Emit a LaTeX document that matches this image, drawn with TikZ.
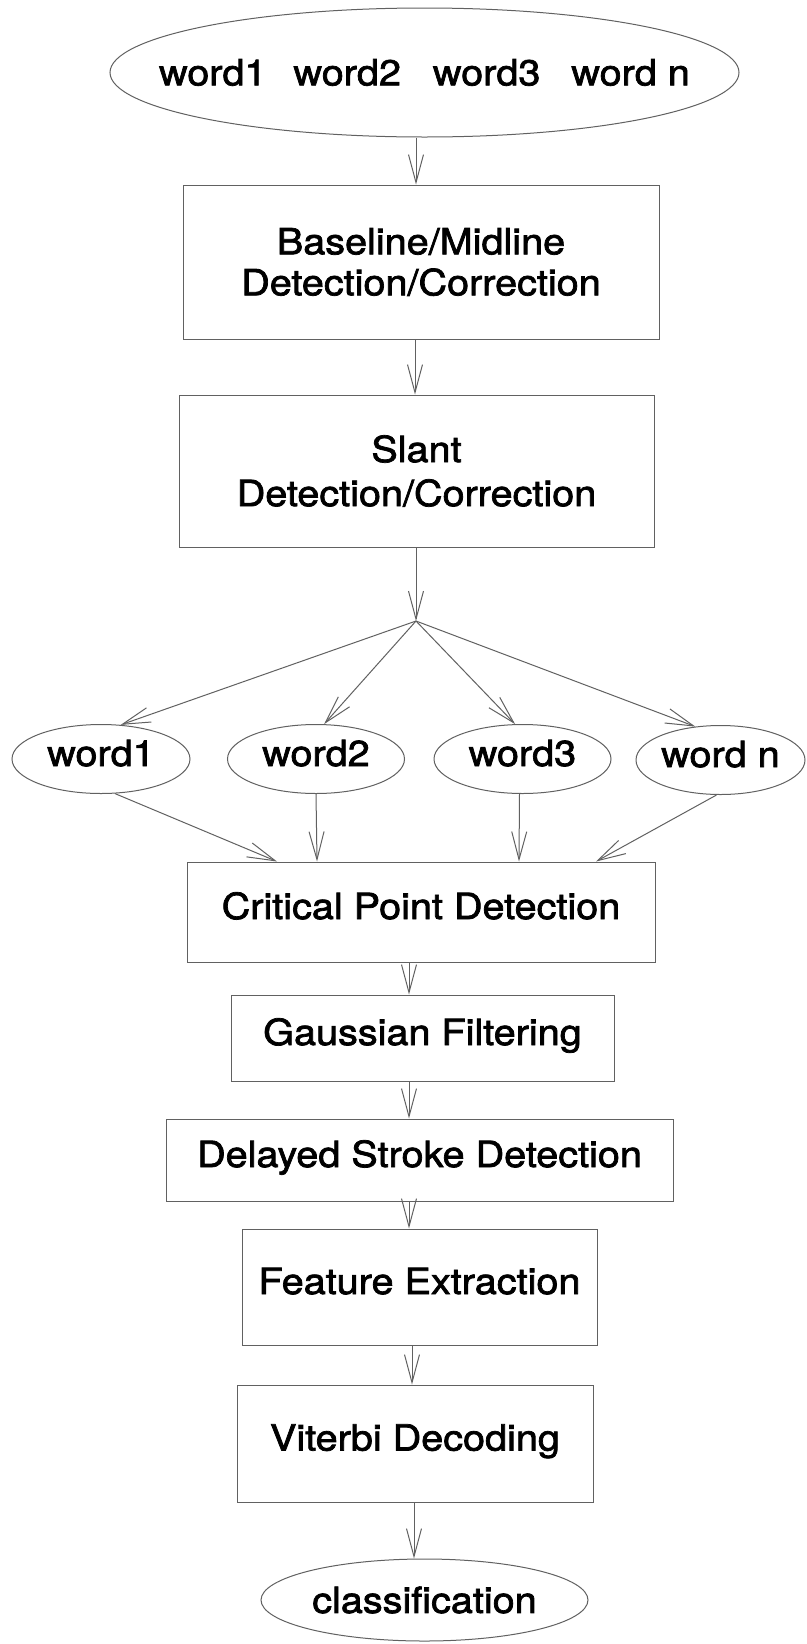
\documentclass[tikz,border=0pt]{standalone}
\usepackage{fontspec}
\newfontfamily\hv{TeX Gyre Heros}[FakeStretch=1.1,FakeBold=2]
\usetikzlibrary{shapes.geometric,arrows.meta,calc}
\begin{document}
\begin{tikzpicture}[x=1pt,y=-1pt,
  every node/.style={font=\hv\fontsize{36}{42}\selectfont, inner sep=0pt},
  lin/.style={draw=black!62, line width=1pt},
  arr/.style={lin, -{Straight Barb[length=28pt,width=15pt,line width=1pt]}},
  stepbox/.style={lin, rectangle, text height=26pt, text depth=12pt},
  twobox/.style={lin, rectangle, align=center},
  oval/.style={lin, ellipse},
  wordoval/.style={lin, ellipse, minimum height=69pt, text height=26pt, text depth=12pt}]
\useasboundingbox (0,0) rectangle (806,1644);
\fill[white] (0,0) rectangle (806,1644);

\node[oval, inner xsep=-60pt, minimum width=629pt, minimum height=129pt] (top) at (424.5,72.5)
  {word1\hskip 27pt word2\hskip 32pt word3\hskip 31pt word n};

\node[twobox, minimum width=476pt, minimum height=154pt] (base) at (421,262)
  {Baseline/Midline\\[-1pt]Detection/Correction};
\node[twobox, minimum width=475pt, minimum height=152pt] (slant) at (416.5,471)
  {Slant\\[2pt]Detection/Correction};

\coordinate (fan) at (416,621);

\node[wordoval, minimum width=178pt] (w1) at (101,759) {word1};
\node[wordoval, minimum width=177pt] (w2) at (316,759) {word2};
\node[wordoval, minimum width=177pt] (w3) at (522.5,759) {word3};
\node[wordoval, inner xsep=-4pt, minimum width=169pt] (wn) at (720.5,760) {word n};

\node[stepbox, minimum width=468pt, minimum height=100pt] (crit) at (421,912) {Critical Point Detection};
\node[stepbox, minimum width=383pt, minimum height=86pt] (gauss) at (422.5,1038) {Gaussian Filtering};
\node[stepbox, minimum width=507pt, minimum height=82pt] (delay) at (419.5,1160) {Delayed Stroke Detection};
\node[stepbox, minimum width=355pt, minimum height=116pt] (feat) at (419.5,1287) {Feature Extraction};
\node[stepbox, minimum width=356pt, minimum height=117pt] (vit) at (415,1443.5) {Viterbi Decoding};
\node[oval, inner xsep=-6pt, minimum width=327pt, minimum height=82pt] (cls) at (424.5,1600) {classification};

\draw[arr] ([xshift=-8.5pt]top.south) -- ([xshift=-5pt]base.north);
\draw[arr] ([xshift=-6pt]base.south) -- ([xshift=-1.5pt]slant.north);
\draw[arr] (slant.south -| fan) -- (fan);
\draw[arr] (fan) -- (w1.60);
\draw[arr] (fan) -- (w2.77);
\draw[arr] (fan) -- (w3.102);
\draw[arr] (fan) -- (wn.127);
\draw[arr] (w1.-68) -- ([xshift=-144pt]crit.north);
\draw[arr] (w2.south) -- ([xshift=-104pt]crit.north);
\draw[arr] ([xshift=-3pt]w3.south) -- ([xshift=98pt]crit.north);
\draw[arr] ([xshift=-4pt]wn.south) -- ([xshift=175pt]crit.north);
\draw[arr] ([xshift=-12pt]crit.south) -- ([xshift=-13.5pt]gauss.north);
\draw[arr] ([xshift=-13.5pt]gauss.south) -- ([xshift=-10.5pt]delay.north);
\draw[arr] ([xshift=-10.5pt]delay.south) -- ([xshift=-10.5pt]feat.north);
\draw[arr] ([xshift=-7.5pt]feat.south) -- ([xshift=-3pt]vit.north);
\draw[arr] ([xshift=-1pt]vit.south) -- ([xshift=-10.5pt]cls.north);
\end{tikzpicture}
\end{document}
